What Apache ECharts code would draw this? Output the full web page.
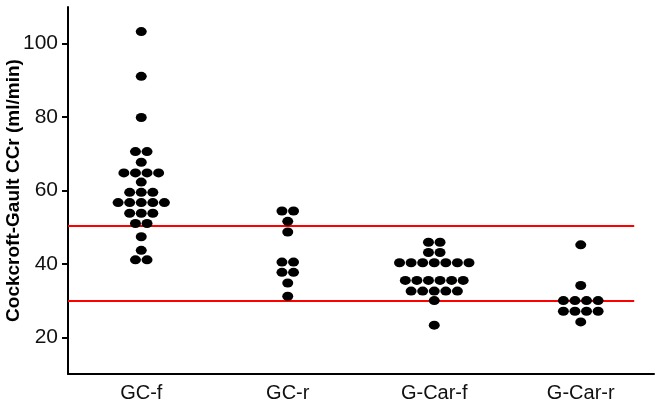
<!DOCTYPE html>
<html>
<head>
<meta charset="utf-8">
<script src="https://cdn.jsdelivr.net/npm/echarts@6/dist/echarts.min.js"></script>
<style>
	html, body { margin: 0; padding: 0; background: #fff; }
	#chart { width: 657px; height: 408px; }
</style>
</head>
<body>
<div id="chart"></div>
<script>
// groups on the x axis
var categories = ['GC-f', 'GC-r', 'G-Car-f', 'G-Car-r'];

// individual values (ml/min)
var gcF = [103.3, 91.1, 79.9, 70.6, 70.6, 67.7, 64.8, 64.8, 64.8, 64.8, 62.3,
	59.5, 59.5, 59.5, 56.7, 56.7, 56.7, 56.7, 56.7, 53.8, 53.8, 53.8,
	51.0, 51.0, 47.4, 43.7, 41.1, 41.1];
var gcR = [54.4, 54.4, 51.6, 48.7, 40.5, 40.5, 37.7, 37.7, 34.8, 31.2];
var gCarF = [45.9, 45.9, 43.1, 43.1, 40.3, 40.3, 40.3, 40.3, 40.3, 40.3, 40.3,
	35.5, 35.5, 35.5, 35.5, 35.5, 35.5, 32.6, 32.6, 32.6, 32.6, 32.6, 30.0, 23.3];
var gCarR = [45.2, 34.1, 30.0, 30.0, 30.0, 30.0, 27.1, 27.1, 27.1, 27.1, 24.2];

// reference lines
var refLines = [50.5, 30];

// y tick labels
var yTicks = [20, 40, 60, 80, 100];

var groups = [gcF, gcR, gCarF, gCarR];
var dotStep = 0.079; // horizontal distance between dots in a row, in category units

// lay out each row of equal values side by side around the category centre
function swarm(values, idx) {
	var counts = {};
	values.forEach(function(v) { counts[v] = (counts[v] || 0) + 1; });
	var seen = {};
	return values.map(function(v) {
		var n = counts[v];
		var k = seen[v] || 0;
		seen[v] = k + 1;
		return [idx + (k - (n - 1) / 2) * dotStep, v];
	});
}

var dots = [];
groups.forEach(function(g, i) {
	dots = dots.concat(swarm(g, i));
});

var myChart = echarts.init(document.getElementById('chart'));

var option = {
	animation: false,
	grid: {
		left: 68,
		right: 3,
		top: 7,
		bottom: 34,
		outerBoundsMode: 'none'
	},
	xAxis: [{
		type: 'category',
		data: categories,
		axisLine: {
			onZero: false,
			lineStyle: { color: '#000', width: 2 }
		},
		axisTick: { show: false },
		axisLabel: {
			color: '#111',
			fontSize: 20,
			fontFamily: 'Liberation Sans',
			margin: 9
		}
	}, {
		type: 'value',
		min: -0.5,
		max: 3.5,
		show: false
	}],
	yAxis: {
		type: 'value',
		min: 10,
		max: 110,
		name: 'Cockcroft-Gault CCr (ml/min)',
		nameLocation: 'middle',
		nameGap: 45,
		nameMoveOverlap: false,
		nameTextStyle: {
			color: '#000',
			fontSize: 19,
			fontWeight: 'bold',
			fontFamily: 'Liberation Sans'
		},
		axisLine: {
			show: true,
			onZero: false,
			lineStyle: { color: '#000', width: 2 }
		},
		axisTick: {
			show: true,
			length: 6,
			customValues: yTicks,
			lineStyle: { color: '#000', width: 2 }
		},
		axisLabel: {
			customValues: yTicks,
			color: '#111',
			fontSize: 21,
			fontFamily: 'Liberation Sans',
			margin: 10
		},
		splitLine: { show: false }
	},
	series: [{
		type: 'scatter',
		xAxisIndex: 1,
		data: dots,
		symbol: 'circle',
		symbolSize: [11, 9],
		itemStyle: { color: '#000', opacity: 1 },
		z: 3,
		markLine: {
			silent: true,
			symbol: 'none',
			label: { show: false },
			lineStyle: { color: '#ff0000', width: 2, type: 'solid' },
			data: refLines.map(function(v) {
				return [{ coord: [-0.5, v] }, { coord: [3.365, v] }];
			}),
			z: 2
		}
	}]
};

myChart.setOption(option);
</script>
</body>
</html>
